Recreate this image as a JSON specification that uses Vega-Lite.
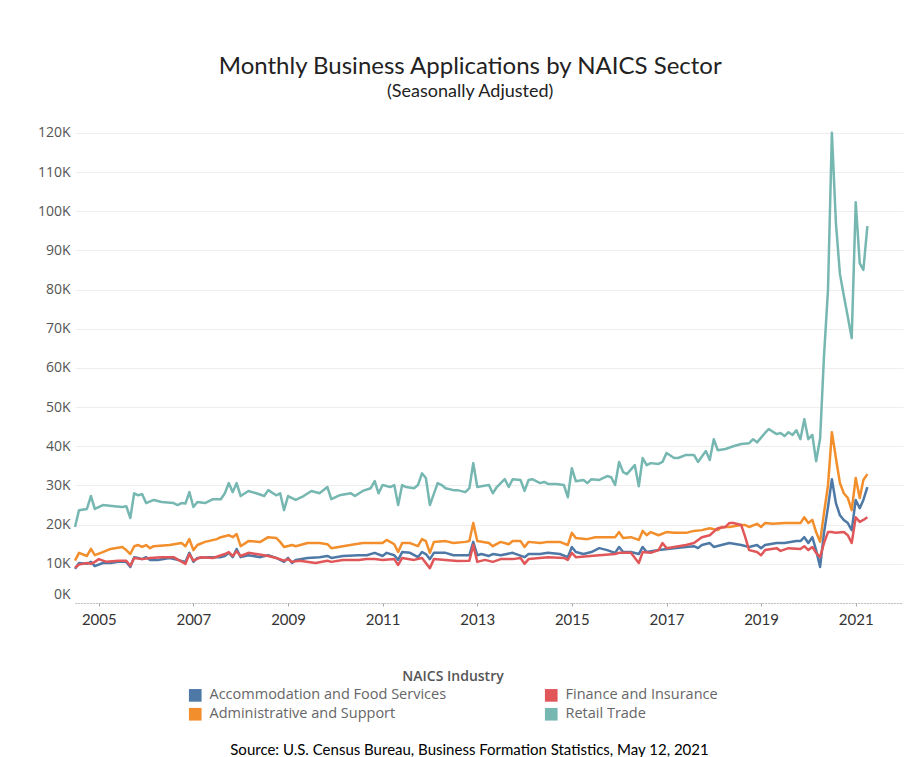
{
  "$schema": "https://vega.github.io/schema/vega-lite/v6.json",
  "width": 828,
  "height": 478,
  "padding": {"left": 37, "top": 55, "right": 5, "bottom": 0},
  "background": "white",
  "title": {
    "text": "Monthly Business Applications by NAICS Sector",
    "subtitle": "(Seasonally Adjusted)",
    "font": "Lato", "fontSize": 24, "fontWeight": "normal", "color": "#222222",
    "subtitleFont": "Lato", "subtitleFontSize": 18, "subtitleColor": "#222222",
    "subtitlePadding": 4, "offset": 24, "anchor": "middle", "frame": "bounds"
  },
  "data": {
    "format": {"parse": {"d": "utc:'%Y-%m'"}},
    "values": [
      {"s":"r","d":"2004-07","v":19400},{"s":"r","d":"2004-08","v":23700},{"s":"r","d":"2004-10","v":24000},{"s":"r","d":"2004-11","v":27300},{"s":"r","d":"2004-12","v":24000},
      {"s":"r","d":"2005-02","v":25000},{"s":"r","d":"2005-05","v":24700},{"s":"r","d":"2005-07","v":24500},{"s":"r","d":"2005-08","v":24700},{"s":"r","d":"2005-09","v":21700},{"s":"r","d":"2005-10","v":28000},{"s":"r","d":"2005-11","v":27500},{"s":"r","d":"2005-12","v":27800},
      {"s":"r","d":"2006-01","v":25500},{"s":"r","d":"2006-03","v":26300},{"s":"r","d":"2006-05","v":25800},{"s":"r","d":"2006-08","v":25500},{"s":"r","d":"2006-09","v":25000},{"s":"r","d":"2006-10","v":25500},{"s":"r","d":"2006-11","v":25400},{"s":"r","d":"2006-12","v":28300},
      {"s":"r","d":"2007-01","v":24500},{"s":"r","d":"2007-02","v":25800},{"s":"r","d":"2007-04","v":25500},{"s":"r","d":"2007-06","v":26500},{"s":"r","d":"2007-08","v":26500},{"s":"r","d":"2007-09","v":28000},{"s":"r","d":"2007-10","v":30600},{"s":"r","d":"2007-11","v":28300},{"s":"r","d":"2007-12","v":30600},
      {"s":"r","d":"2008-01","v":27300},{"s":"r","d":"2008-03","v":28600},{"s":"r","d":"2008-05","v":28000},{"s":"r","d":"2008-07","v":27300},{"s":"r","d":"2008-08","v":28800},{"s":"r","d":"2008-10","v":27500},{"s":"r","d":"2008-11","v":28000},{"s":"r","d":"2008-12","v":23700},
      {"s":"r","d":"2009-01","v":27300},{"s":"r","d":"2009-03","v":26300},{"s":"r","d":"2009-05","v":27300},{"s":"r","d":"2009-07","v":28600},{"s":"r","d":"2009-09","v":28000},{"s":"r","d":"2009-11","v":29600},{"s":"r","d":"2009-12","v":26500},
      {"s":"r","d":"2010-02","v":27500},{"s":"r","d":"2010-05","v":28000},{"s":"r","d":"2010-06","v":27300},{"s":"r","d":"2010-08","v":28600},{"s":"r","d":"2010-10","v":29300},{"s":"r","d":"2010-11","v":31100},{"s":"r","d":"2010-12","v":28000},
      {"s":"r","d":"2011-01","v":30100},{"s":"r","d":"2011-03","v":29600},{"s":"r","d":"2011-04","v":30100},{"s":"r","d":"2011-05","v":25000},{"s":"r","d":"2011-06","v":30100},{"s":"r","d":"2011-07","v":29600},{"s":"r","d":"2011-09","v":29300},{"s":"r","d":"2011-10","v":30100},{"s":"r","d":"2011-11","v":33100},{"s":"r","d":"2011-12","v":31900},
      {"s":"r","d":"2012-01","v":25000},{"s":"r","d":"2012-03","v":30600},{"s":"r","d":"2012-04","v":30100},{"s":"r","d":"2012-05","v":29300},{"s":"r","d":"2012-07","v":28800},{"s":"r","d":"2012-08","v":28800},{"s":"r","d":"2012-10","v":28300},{"s":"r","d":"2012-11","v":29300},{"s":"r","d":"2012-12","v":35700},
      {"s":"r","d":"2013-01","v":29600},{"s":"r","d":"2013-02","v":29800},{"s":"r","d":"2013-04","v":30100},{"s":"r","d":"2013-05","v":28000},{"s":"r","d":"2013-06","v":29600},{"s":"r","d":"2013-07","v":30600},{"s":"r","d":"2013-08","v":31600},{"s":"r","d":"2013-09","v":29600},{"s":"r","d":"2013-10","v":31600},{"s":"r","d":"2013-12","v":31400},
      {"s":"r","d":"2014-01","v":28600},{"s":"r","d":"2014-02","v":31400},{"s":"r","d":"2014-03","v":31600},{"s":"r","d":"2014-05","v":30600},{"s":"r","d":"2014-06","v":30900},{"s":"r","d":"2014-07","v":30400},{"s":"r","d":"2014-09","v":30400},{"s":"r","d":"2014-11","v":30100},{"s":"r","d":"2014-12","v":27000},
      {"s":"r","d":"2015-01","v":34400},{"s":"r","d":"2015-02","v":31100},{"s":"r","d":"2015-04","v":31400},{"s":"r","d":"2015-05","v":30600},{"s":"r","d":"2015-06","v":31600},{"s":"r","d":"2015-08","v":31400},{"s":"r","d":"2015-10","v":32400},{"s":"r","d":"2015-11","v":32100},{"s":"r","d":"2015-12","v":30100},
      {"s":"r","d":"2016-01","v":36000},{"s":"r","d":"2016-02","v":33400},{"s":"r","d":"2016-03","v":32900},{"s":"r","d":"2016-05","v":35200},{"s":"r","d":"2016-06","v":29800},{"s":"r","d":"2016-07","v":37000},{"s":"r","d":"2016-08","v":35200},{"s":"r","d":"2016-09","v":35700},{"s":"r","d":"2016-11","v":35500},{"s":"r","d":"2016-12","v":36000},
      {"s":"r","d":"2017-01","v":38300},{"s":"r","d":"2017-03","v":37000},{"s":"r","d":"2017-04","v":37000},{"s":"r","d":"2017-06","v":37800},{"s":"r","d":"2017-08","v":37800},{"s":"r","d":"2017-09","v":36000},{"s":"r","d":"2017-11","v":38800},{"s":"r","d":"2017-12","v":36500},
      {"s":"r","d":"2018-01","v":41800},{"s":"r","d":"2018-02","v":39000},{"s":"r","d":"2018-04","v":39300},{"s":"r","d":"2018-06","v":40000},{"s":"r","d":"2018-08","v":40600},{"s":"r","d":"2018-10","v":40800},{"s":"r","d":"2018-11","v":41800},{"s":"r","d":"2018-12","v":41000},
      {"s":"r","d":"2019-02","v":43400},{"s":"r","d":"2019-03","v":44400},{"s":"r","d":"2019-05","v":43100},{"s":"r","d":"2019-06","v":43400},{"s":"r","d":"2019-07","v":42600},{"s":"r","d":"2019-08","v":43600},{"s":"r","d":"2019-09","v":42900},{"s":"r","d":"2019-10","v":44100},{"s":"r","d":"2019-11","v":41800},{"s":"r","d":"2019-12","v":46900},
      {"s":"r","d":"2020-01","v":41800},{"s":"r","d":"2020-02","v":42900},{"s":"r","d":"2020-03","v":36200},{"s":"r","d":"2020-04","v":42000},{"s":"r","d":"2020-05","v":63000},{"s":"r","d":"2020-06","v":80000},{"s":"r","d":"2020-07","v":120000},{"s":"r","d":"2020-08","v":97000},{"s":"r","d":"2020-09","v":84000},{"s":"r","d":"2020-10","v":78500},{"s":"r","d":"2020-11","v":73000},{"s":"r","d":"2020-12","v":67600},
      {"s":"r","d":"2021-01","v":102300},{"s":"r","d":"2021-02","v":86700},{"s":"r","d":"2021-03","v":85000},{"s":"r","d":"2021-04","v":96200},

      {"s":"o","d":"2004-07","v":10800},{"s":"o","d":"2004-08","v":12800},{"s":"o","d":"2004-10","v":12000},{"s":"o","d":"2004-11","v":13800},{"s":"o","d":"2004-12","v":12200},
      {"s":"o","d":"2005-02","v":13000},{"s":"o","d":"2005-04","v":13800},{"s":"o","d":"2005-07","v":14300},{"s":"o","d":"2005-08","v":13500},{"s":"o","d":"2005-09","v":12500},{"s":"o","d":"2005-10","v":14500},{"s":"o","d":"2005-11","v":14800},{"s":"o","d":"2005-12","v":14300},
      {"s":"o","d":"2006-01","v":14800},{"s":"o","d":"2006-02","v":14000},{"s":"o","d":"2006-03","v":14500},{"s":"o","d":"2006-07","v":14800},{"s":"o","d":"2006-10","v":15300},{"s":"o","d":"2006-11","v":14500},{"s":"o","d":"2006-12","v":16300},
      {"s":"o","d":"2007-01","v":13500},{"s":"o","d":"2007-02","v":14800},{"s":"o","d":"2007-04","v":15600},{"s":"o","d":"2007-07","v":16300},{"s":"o","d":"2007-08","v":16800},{"s":"o","d":"2007-10","v":17300},{"s":"o","d":"2007-11","v":16800},{"s":"o","d":"2007-12","v":17600},
      {"s":"o","d":"2008-01","v":14500},{"s":"o","d":"2008-03","v":15800},{"s":"o","d":"2008-06","v":15600},{"s":"o","d":"2008-08","v":16800},{"s":"o","d":"2008-10","v":16600},{"s":"o","d":"2008-11","v":15600},{"s":"o","d":"2008-12","v":14300},
      {"s":"o","d":"2009-02","v":14800},{"s":"o","d":"2009-03","v":14500},{"s":"o","d":"2009-06","v":15300},{"s":"o","d":"2009-09","v":15300},{"s":"o","d":"2009-11","v":15000},{"s":"o","d":"2009-12","v":14000},
      {"s":"o","d":"2010-03","v":14500},{"s":"o","d":"2010-06","v":15000},{"s":"o","d":"2010-08","v":15300},{"s":"o","d":"2010-11","v":15300},
      {"s":"o","d":"2011-01","v":15300},{"s":"o","d":"2011-02","v":16100},{"s":"o","d":"2011-04","v":15000},{"s":"o","d":"2011-05","v":13000},{"s":"o","d":"2011-06","v":15300},{"s":"o","d":"2011-08","v":15300},{"s":"o","d":"2011-10","v":14500},{"s":"o","d":"2011-11","v":16300},{"s":"o","d":"2011-12","v":15800},
      {"s":"o","d":"2012-01","v":12800},{"s":"o","d":"2012-02","v":15600},{"s":"o","d":"2012-05","v":15800},{"s":"o","d":"2012-07","v":15300},{"s":"o","d":"2012-10","v":15600},{"s":"o","d":"2012-11","v":15800},{"s":"o","d":"2012-12","v":20400},
      {"s":"o","d":"2013-01","v":15800},{"s":"o","d":"2013-04","v":15300},{"s":"o","d":"2013-05","v":14500},{"s":"o","d":"2013-07","v":15600},{"s":"o","d":"2013-09","v":15000},{"s":"o","d":"2013-10","v":15800},{"s":"o","d":"2013-12","v":15800},
      {"s":"o","d":"2014-01","v":14300},{"s":"o","d":"2014-02","v":15600},{"s":"o","d":"2014-05","v":15300},{"s":"o","d":"2014-07","v":15600},{"s":"o","d":"2014-10","v":15600},{"s":"o","d":"2014-12","v":14800},
      {"s":"o","d":"2015-01","v":17900},{"s":"o","d":"2015-02","v":16600},{"s":"o","d":"2015-05","v":16300},{"s":"o","d":"2015-07","v":16800},{"s":"o","d":"2015-10","v":16800},{"s":"o","d":"2015-12","v":16800},
      {"s":"o","d":"2016-01","v":18100},{"s":"o","d":"2016-02","v":16600},{"s":"o","d":"2016-04","v":16800},{"s":"o","d":"2016-06","v":16100},{"s":"o","d":"2016-07","v":18400},{"s":"o","d":"2016-08","v":17300},{"s":"o","d":"2016-09","v":18100},{"s":"o","d":"2016-11","v":17300},
      {"s":"o","d":"2017-01","v":18100},{"s":"o","d":"2017-03","v":17900},{"s":"o","d":"2017-06","v":17900},{"s":"o","d":"2017-08","v":18400},{"s":"o","d":"2017-10","v":18600},{"s":"o","d":"2017-12","v":19100},
      {"s":"o","d":"2018-02","v":18600},{"s":"o","d":"2018-03","v":19400},{"s":"o","d":"2018-05","v":19400},{"s":"o","d":"2018-08","v":19900},{"s":"o","d":"2018-09","v":19900},{"s":"o","d":"2018-10","v":19400},{"s":"o","d":"2018-12","v":20200},
      {"s":"o","d":"2019-01","v":19400},{"s":"o","d":"2019-02","v":20400},{"s":"o","d":"2019-04","v":20200},{"s":"o","d":"2019-07","v":20400},{"s":"o","d":"2019-09","v":20400},{"s":"o","d":"2019-11","v":20400},{"s":"o","d":"2019-12","v":21900},
      {"s":"o","d":"2020-01","v":20400},{"s":"o","d":"2020-02","v":21200},{"s":"o","d":"2020-03","v":18100},{"s":"o","d":"2020-04","v":15600},{"s":"o","d":"2020-05","v":23000},{"s":"o","d":"2020-06","v":30000},{"s":"o","d":"2020-07","v":43600},{"s":"o","d":"2020-08","v":37000},{"s":"o","d":"2020-09","v":30600},{"s":"o","d":"2020-10","v":28000},{"s":"o","d":"2020-11","v":26800},{"s":"o","d":"2020-12","v":23700},
      {"s":"o","d":"2021-01","v":31900},{"s":"o","d":"2021-02","v":26800},{"s":"o","d":"2021-03","v":31400},{"s":"o","d":"2021-04","v":32900},

      {"s":"a","d":"2004-07","v":8700},{"s":"a","d":"2004-08","v":10200},{"s":"a","d":"2004-10","v":10000},{"s":"a","d":"2004-11","v":10500},{"s":"a","d":"2004-12","v":9400},
      {"s":"a","d":"2005-02","v":10200},{"s":"a","d":"2005-04","v":10200},{"s":"a","d":"2005-06","v":10500},{"s":"a","d":"2005-08","v":10500},{"s":"a","d":"2005-09","v":9200},{"s":"a","d":"2005-10","v":11700},{"s":"a","d":"2005-11","v":11500},{"s":"a","d":"2005-12","v":11200},
      {"s":"a","d":"2006-01","v":11700},{"s":"a","d":"2006-02","v":11000},{"s":"a","d":"2006-04","v":11000},{"s":"a","d":"2006-07","v":11500},{"s":"a","d":"2006-09","v":11000},{"s":"a","d":"2006-11","v":10500},{"s":"a","d":"2006-12","v":12800},
      {"s":"a","d":"2007-01","v":10500},{"s":"a","d":"2007-02","v":11500},{"s":"a","d":"2007-05","v":11700},{"s":"a","d":"2007-08","v":11700},{"s":"a","d":"2007-09","v":12000},{"s":"a","d":"2007-10","v":12800},{"s":"a","d":"2007-11","v":11700},{"s":"a","d":"2007-12","v":13800},
      {"s":"a","d":"2008-01","v":11700},{"s":"a","d":"2008-03","v":12200},{"s":"a","d":"2008-06","v":11700},{"s":"a","d":"2008-08","v":12200},{"s":"a","d":"2008-10","v":11500},{"s":"a","d":"2008-11","v":11000},{"s":"a","d":"2008-12","v":10500},
      {"s":"a","d":"2009-01","v":11500},{"s":"a","d":"2009-02","v":10200},{"s":"a","d":"2009-03","v":11000},{"s":"a","d":"2009-06","v":11500},{"s":"a","d":"2009-09","v":11700},{"s":"a","d":"2009-11","v":12000},{"s":"a","d":"2009-12","v":11500},
      {"s":"a","d":"2010-03","v":12000},{"s":"a","d":"2010-07","v":12200},{"s":"a","d":"2010-09","v":12200},{"s":"a","d":"2010-11","v":12800},
      {"s":"a","d":"2011-01","v":12000},{"s":"a","d":"2011-02","v":12800},{"s":"a","d":"2011-04","v":12200},{"s":"a","d":"2011-05","v":11000},{"s":"a","d":"2011-06","v":13000},{"s":"a","d":"2011-08","v":12800},{"s":"a","d":"2011-10","v":11700},{"s":"a","d":"2011-11","v":13000},{"s":"a","d":"2011-12","v":12500},
      {"s":"a","d":"2012-01","v":11200},{"s":"a","d":"2012-02","v":12800},{"s":"a","d":"2012-05","v":12800},{"s":"a","d":"2012-07","v":12200},{"s":"a","d":"2012-10","v":12200},{"s":"a","d":"2012-11","v":12200},{"s":"a","d":"2012-12","v":15600},
      {"s":"a","d":"2013-01","v":12200},{"s":"a","d":"2013-02","v":12500},{"s":"a","d":"2013-04","v":12000},{"s":"a","d":"2013-05","v":12500},{"s":"a","d":"2013-07","v":12200},{"s":"a","d":"2013-10","v":12800},
      {"s":"a","d":"2014-01","v":11700},{"s":"a","d":"2014-02","v":12500},{"s":"a","d":"2014-05","v":12500},{"s":"a","d":"2014-07","v":12800},{"s":"a","d":"2014-10","v":12500},{"s":"a","d":"2014-12","v":11700},
      {"s":"a","d":"2015-01","v":14300},{"s":"a","d":"2015-02","v":13000},{"s":"a","d":"2015-04","v":12500},{"s":"a","d":"2015-06","v":13000},{"s":"a","d":"2015-08","v":14000},{"s":"a","d":"2015-10","v":13500},{"s":"a","d":"2015-12","v":12800},
      {"s":"a","d":"2016-01","v":14300},{"s":"a","d":"2016-02","v":13000},{"s":"a","d":"2016-04","v":13000},{"s":"a","d":"2016-06","v":12500},{"s":"a","d":"2016-07","v":14300},{"s":"a","d":"2016-08","v":13000},{"s":"a","d":"2016-11","v":13500},
      {"s":"a","d":"2017-03","v":14000},{"s":"a","d":"2017-06","v":14300},{"s":"a","d":"2017-08","v":14500},{"s":"a","d":"2017-09","v":14000},{"s":"a","d":"2017-10","v":14800},{"s":"a","d":"2017-12","v":15300},
      {"s":"a","d":"2018-01","v":14300},{"s":"a","d":"2018-03","v":14800},{"s":"a","d":"2018-05","v":15300},{"s":"a","d":"2018-08","v":14800},{"s":"a","d":"2018-10","v":14300},{"s":"a","d":"2018-12","v":14800},
      {"s":"a","d":"2019-01","v":14000},{"s":"a","d":"2019-02","v":14800},{"s":"a","d":"2019-05","v":15300},{"s":"a","d":"2019-07","v":15300},{"s":"a","d":"2019-10","v":15800},{"s":"a","d":"2019-11","v":15800},{"s":"a","d":"2019-12","v":16800},
      {"s":"a","d":"2020-01","v":15300},{"s":"a","d":"2020-02","v":16800},{"s":"a","d":"2020-03","v":13500},{"s":"a","d":"2020-04","v":9200},{"s":"a","d":"2020-05","v":17900},{"s":"a","d":"2020-06","v":24500},{"s":"a","d":"2020-07","v":31600},{"s":"a","d":"2020-08","v":25500},{"s":"a","d":"2020-09","v":22400},{"s":"a","d":"2020-10","v":21200},{"s":"a","d":"2020-11","v":20400},{"s":"a","d":"2020-12","v":18600},
      {"s":"a","d":"2021-01","v":26300},{"s":"a","d":"2021-02","v":24200},{"s":"a","d":"2021-03","v":26300},{"s":"a","d":"2021-04","v":29600},

      {"s":"f","d":"2004-07","v":9000},{"s":"f","d":"2004-08","v":9800},{"s":"f","d":"2004-10","v":10200},{"s":"f","d":"2004-11","v":10000},{"s":"f","d":"2004-12","v":10500},
      {"s":"f","d":"2005-01","v":11200},{"s":"f","d":"2005-03","v":10500},{"s":"f","d":"2005-06","v":10800},{"s":"f","d":"2005-08","v":10800},{"s":"f","d":"2005-09","v":9500},{"s":"f","d":"2005-10","v":11500},{"s":"f","d":"2005-12","v":11200},
      {"s":"f","d":"2006-02","v":11500},{"s":"f","d":"2006-05","v":11700},{"s":"f","d":"2006-08","v":11700},{"s":"f","d":"2006-11","v":10000},{"s":"f","d":"2006-12","v":12500},
      {"s":"f","d":"2007-01","v":10800},{"s":"f","d":"2007-03","v":11700},{"s":"f","d":"2007-06","v":11500},{"s":"f","d":"2007-09","v":12500},{"s":"f","d":"2007-10","v":13000},{"s":"f","d":"2007-11","v":12000},{"s":"f","d":"2007-12","v":13200},
      {"s":"f","d":"2008-01","v":12000},{"s":"f","d":"2008-03","v":12800},{"s":"f","d":"2008-05","v":12500},{"s":"f","d":"2008-08","v":12000},{"s":"f","d":"2008-10","v":11500},{"s":"f","d":"2008-12","v":10800},
      {"s":"f","d":"2009-01","v":11200},{"s":"f","d":"2009-02","v":10500},{"s":"f","d":"2009-04","v":10800},{"s":"f","d":"2009-08","v":10200},{"s":"f","d":"2009-11","v":10800},{"s":"f","d":"2009-12","v":10500},
      {"s":"f","d":"2010-03","v":11000},{"s":"f","d":"2010-07","v":11000},{"s":"f","d":"2010-09","v":11200},{"s":"f","d":"2010-11","v":11200},
      {"s":"f","d":"2011-01","v":11000},{"s":"f","d":"2011-04","v":11200},{"s":"f","d":"2011-05","v":9700},{"s":"f","d":"2011-06","v":11500},{"s":"f","d":"2011-09","v":11000},{"s":"f","d":"2011-11","v":11500},
      {"s":"f","d":"2012-01","v":8900},{"s":"f","d":"2012-02","v":11200},{"s":"f","d":"2012-05","v":11000},{"s":"f","d":"2012-08","v":10700},{"s":"f","d":"2012-11","v":10800},{"s":"f","d":"2012-12","v":14800},
      {"s":"f","d":"2013-01","v":10500},{"s":"f","d":"2013-03","v":11000},{"s":"f","d":"2013-05","v":10500},{"s":"f","d":"2013-07","v":11200},{"s":"f","d":"2013-10","v":11200},{"s":"f","d":"2013-12","v":11500},
      {"s":"f","d":"2014-01","v":10000},{"s":"f","d":"2014-02","v":11200},{"s":"f","d":"2014-07","v":11700},{"s":"f","d":"2014-11","v":11500},{"s":"f","d":"2014-12","v":11000},
      {"s":"f","d":"2015-01","v":12800},{"s":"f","d":"2015-02","v":11700},{"s":"f","d":"2015-08","v":12200},{"s":"f","d":"2015-12","v":12500},
      {"s":"f","d":"2016-01","v":12800},{"s":"f","d":"2016-04","v":12800},{"s":"f","d":"2016-06","v":10200},{"s":"f","d":"2016-07","v":13000},{"s":"f","d":"2016-09","v":12800},{"s":"f","d":"2016-11","v":13500},{"s":"f","d":"2016-12","v":15300},
      {"s":"f","d":"2017-01","v":14000},{"s":"f","d":"2017-03","v":14300},{"s":"f","d":"2017-06","v":14800},{"s":"f","d":"2017-08","v":15300},{"s":"f","d":"2017-10","v":16800},{"s":"f","d":"2017-12","v":17300},
      {"s":"f","d":"2018-02","v":19100},{"s":"f","d":"2018-04","v":19400},{"s":"f","d":"2018-05","v":20400},{"s":"f","d":"2018-06","v":20400},{"s":"f","d":"2018-08","v":19900},{"s":"f","d":"2018-09","v":16800},{"s":"f","d":"2018-10","v":13500},{"s":"f","d":"2018-12","v":13000},
      {"s":"f","d":"2019-01","v":12200},{"s":"f","d":"2019-02","v":13500},{"s":"f","d":"2019-05","v":14000},{"s":"f","d":"2019-06","v":13300},{"s":"f","d":"2019-08","v":14000},{"s":"f","d":"2019-11","v":13800},{"s":"f","d":"2019-12","v":14500},
      {"s":"f","d":"2020-01","v":13500},{"s":"f","d":"2020-02","v":14300},{"s":"f","d":"2020-03","v":12800},{"s":"f","d":"2020-04","v":11700},{"s":"f","d":"2020-05","v":15300},{"s":"f","d":"2020-06","v":18100},{"s":"f","d":"2020-07","v":18100},{"s":"f","d":"2020-08","v":17900},{"s":"f","d":"2020-10","v":18100},{"s":"f","d":"2020-11","v":17300},{"s":"f","d":"2020-12","v":15300},
      {"s":"f","d":"2021-01","v":21900},{"s":"f","d":"2021-02","v":20700},{"s":"f","d":"2021-03","v":21200},{"s":"f","d":"2021-04","v":21900}
    ]
  },
  "transform": [
    {
      "lookup": "s",
      "from": {
        "data": {"values": [
          {"s": "a", "n": "Accommodation and Food Services"},
          {"s": "o", "n": "Administrative and Support"},
          {"s": "f", "n": "Finance and Insurance"},
          {"s": "r", "n": "Retail Trade"}
        ]},
        "key": "s",
        "fields": ["n"]
      }
    }
  ],
  "mark": {"type": "line", "strokeWidth": 2.5, "strokeJoin": "round"},
  "encoding": {
    "x": {
      "field": "d", "type": "temporal",
      "scale": {"type": "utc", "domain": [{"year": 2004, "month": 7, "date": 1, "utc": true}, {"year": 2022, "month": 1, "date": 1, "utc": true}]},
      "axis": {
        "values": [{"year": 2005, "utc": true}, {"year": 2007, "utc": true}, {"year": 2009, "utc": true}, {"year": 2011, "utc": true}, {"year": 2013, "utc": true}, {"year": 2015, "utc": true}, {"year": 2017, "utc": true}, {"year": 2019, "utc": true}, {"year": 2021, "utc": true}],
        "format": "%Y", "formatType": "utc",
        "labelFont": "Lato", "labelFontSize": 15, "labelColor": "#333333", "labelPadding": 6, "labelFlush": false,
        "tickSize": 3, "tickColor": "#aaaaaa", "domainColor": "#999999", "domainDash": [1, 2], "grid": false,
        "title": "Source: U.S. Census Bureau, Business Formation Statistics, May 12, 2021",
        "titleFont": "Lato", "titleFontSize": 15, "titleFontWeight": "normal", "titleColor": "#000000",
        "titleX": 394, "titleY": 151, "titleAlign": "center", "titleBaseline": "alphabetic"
      }
    },
    "y": {
      "field": "v", "type": "quantitative",
      "scale": {"domain": [0, 122000], "nice": false},
      "axis": {
        "values": [0, 10000, 20000, 30000, 40000, 50000, 60000, 70000, 80000, 90000, 100000, 110000, 120000],
        "labelExpr": "format(datum.value / 1000, 'd') + 'K'",
        "labelFont": "Open Sans", "labelFontSize": 14, "labelColor": "#555555", "labelPadding": 5,
        "labelFlush": true, "labelFlushOffset": -2,
        "ticks": false, "domain": false, "grid": true, "gridColor": "#eeeeee", "gridWidth": 1,
        "title": null
      }
    },
    "color": {
      "field": "n", "type": "nominal",
      "scale": {
        "domain": ["Accommodation and Food Services", "Administrative and Support", "Finance and Insurance", "Retail Trade"],
        "range": ["#4e79a7", "#f28e2b", "#e15759", "#76b7b2"]
      },
      "legend": {
        "orient": "none", "legendX": 113, "legendY": 545, "columns": 2,
        "title": "NAICS Industry", "titleFont": "Open Sans", "titleFontSize": 14, "titleFontWeight": 600, "titleColor": "#555555",
        "titleAnchor": "middle", "titlePadding": 4,
        "labelFont": "Open Sans", "labelFontSize": 14.5, "labelColor": "#666666", "labelOffset": 7, "labelLimit": 400,
        "symbolType": "square", "symbolSize": 160, "symbolStrokeWidth": 0,
        "columnPadding": 97, "rowPadding": 4,
        "encode": {"symbols": {"update": {"fill": {"scale": "color", "field": "value"}, "opacity": {"value": 1}}}}
      }
    }
  },
  "config": {"view": {"stroke": null}}
}
